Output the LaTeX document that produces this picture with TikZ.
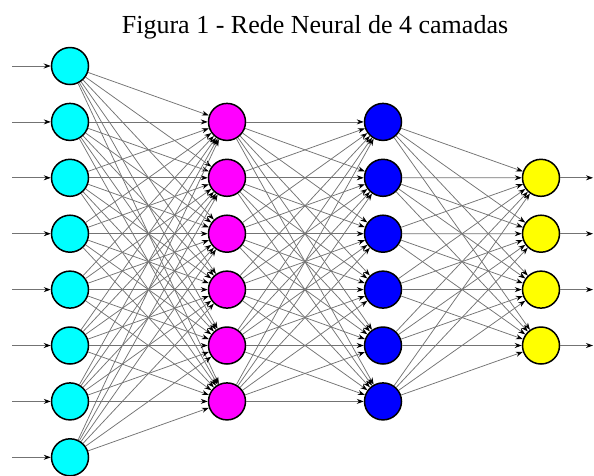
\documentclass[tikz,border=0pt]{standalone}
\usepackage{fontspec}
\setmainfont{Liberation Serif}
\usetikzlibrary{arrows.meta}
\definecolor{ciano}{RGB}{0,255,255}
\definecolor{rosa}{RGB}{255,0,255}
\definecolor{azul}{RGB}{0,0,255}
\definecolor{amarelo}{RGB}{255,255,0}
\begin{document}
\begin{tikzpicture}
[
    x=1pt, y=-1pt,
    neuron/.style={circle, draw=black, line width=1.5pt, minimum size=37pt, inner sep=0pt},
    link/.style={draw=black!55, line width=0.75pt, -{Stealth[length=7pt,width=5pt,color=black]}},
]
\useasboundingbox (0,0) rectangle (594,475);
\node[font=\fontsize{26}{30}\selectfont, anchor=base] (title) at (315,33) {Figura 1 - Rede Neural de 4 camadas};
% camadas
\foreach \i in {1,...,8}
    \node[neuron, fill=ciano] (in\i) at (70,{66+55.9*(\i-1)}) {};
\foreach \i in {1,...,6}
    \node[neuron, fill=rosa] (a\i) at (227,{121.9+55.9*(\i-1)}) {};
\foreach \i in {1,...,6}
    \node[neuron, fill=azul] (b\i) at (383,{121.9+55.9*(\i-1)}) {};
\foreach \i in {1,...,4}
    \node[neuron, fill=amarelo] (out\i) at (541,{177.8+55.9*(\i-1)}) {};
% entradas e saidas
\foreach \i in {1,...,8}{
    \coordinate (x\i) at (12,{66+55.9*(\i-1)});
    \draw[link] (x\i) -- (in\i);
}
\foreach \i in {1,...,4}{
    \coordinate (y\i) at (593,{177.8+55.9*(\i-1)});
    \draw[link] (out\i) -- (y\i);
}
% ligacoes
\foreach \i in {1,...,8}
    \foreach \j in {1,...,6}
        \draw[link] (in\i) -- (a\j);
\foreach \i in {1,...,6}
    \foreach \j in {1,...,6}
        \draw[link] (a\i) -- (b\j);
\foreach \i in {1,...,6}
    \foreach \j in {1,...,4}
        \draw[link] (b\i) -- (out\j);
\end{tikzpicture}
\end{document}
